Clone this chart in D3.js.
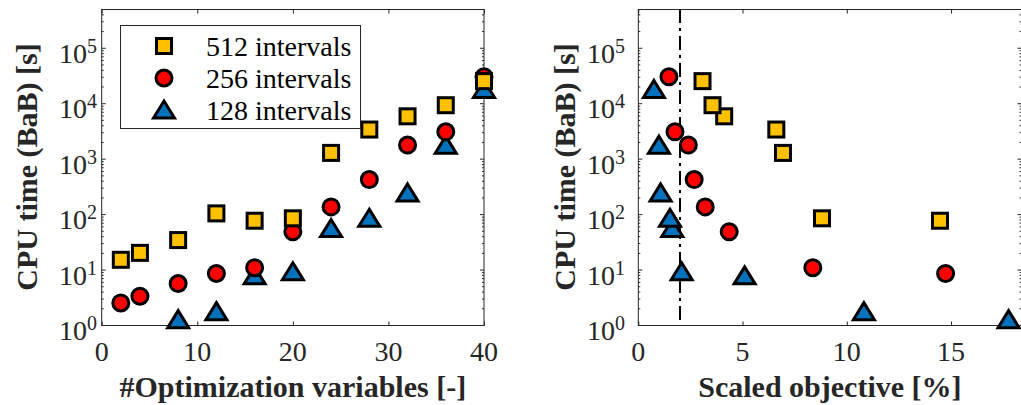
<!DOCTYPE html>
<html lang="en">
<head>
    <meta charset="UTF-8">
    <title>CPU time vs variables</title>
    <style>
        body { margin: 0; background: #fff; }
        svg { display: block; font-family: "Liberation Serif", "DejaVu Serif", serif; }
    </style>
</head>
<body>
<svg></svg>
<script src="https://d3js.org/d3.v7.min.js"></script>
<script>
    // number of optimization variables (left x axis)
    var nVars = [2, 4, 8, 12, 16, 20, 24, 28, 32, 36, 40];
    // CPU time [s] for each interval count
    var time512 = [15, 20, 34, 103, 76, 84, 1270, 3350, 5800, 9200, 25000];
    var time256 = [2.5, 3.3, 5.6, 8.5, 10.8, 48, 135, 420, 1760, 3050, 30000];
    var time128 = [null, null, 1.25, 1.74, 7.7, 9.1, 55, 84, 241, 1750, 17700];
    // scaled objective [%] (right x axis), null = outside the shown range
    var obj512 = [null, null, null, null, 14.47, 8.81, 6.94, 6.62, 4.12, 3.56, 3.08];
    var obj256 = [null, null, null, 14.74, 8.37, 4.36, 3.21, 2.68, 2.40, 1.76, 1.47];
    var obj128 = [null, null, 17.76, 10.82, 5.10, 2.08, 1.63, 1.52, 1.07, 0.99, 0.75];

    var leftTicks = [0, 10, 20, 30, 40];
    var rightTicks = [0, 5, 10, 15];
    var yTicks = [1, 10, 100, 1000, 10000, 100000];
    var refLine = 2;
    var legendLabels = ["512 intervals", "256 intervals", "128 intervals"];

    var width = 1021, height = 405;
    var yTop = 9, yBottom = 325;
    var axisColor = "#262626";

    var svg = d3.select("svg").attr("width", width).attr("height", height);

    var yScale = d3.scaleLog().domain([1, 5e5]).range([yBottom, yTop]);

    var series = [
        {name: "128", shape: "tri", fill: "#0072BD", y: time128, x2: obj128},
        {name: "256", shape: "circ", fill: "#FF0000", y: time256, x2: obj256},
        {name: "512", shape: "sq", fill: "#FFC000", y: time512, x2: obj512}
    ];

    function drawMarker(g, shape, fill, cx, cy) {
        if (shape == "sq") {
            g.append("rect").attr("x", cx - 7.5).attr("y", cy - 7.5)
                .attr("width", 15).attr("height", 15)
                .attr("fill", fill).attr("stroke", "#000").attr("stroke-width", 3);
        } else if (shape == "circ") {
            g.append("circle").attr("cx", cx).attr("cy", cy).attr("r", 8)
                .attr("fill", fill).attr("stroke", "#000").attr("stroke-width", 3);
        } else {
            var p = d3.path();
            p.moveTo(cx, cy - 9);
            p.lineTo(cx + 10.5, cy + 8);
            p.lineTo(cx - 10.5, cy + 8);
            p.closePath();
            g.append("path").attr("d", p.toString())
                .attr("fill", fill).attr("stroke", "#000").attr("stroke-width", 3)
                .attr("stroke-linejoin", "miter").attr("stroke-miterlimit", 3);
        }
    }

    function panel(x0, x1, xDomain, xTicks, xLabel, yLabelX, tickEnd) {
        var xScale = d3.scaleLinear().domain(xDomain).range([x0, x1]);
        var g = svg.append("g");

        // box
        g.append("rect").attr("x", x0).attr("y", yTop + 0.5)
            .attr("width", x1 - x0).attr("height", yBottom - yTop)
            .attr("fill", "none").attr("stroke", axisColor).attr("stroke-width", 1);

        // x axis ticks (bottom + top, inward)
        var xAxisB = d3.axisBottom(xScale).tickValues(xTicks).tickSizeInner(-4).tickSizeOuter(0).tickFormat("");
        var xAxisT = d3.axisTop(xScale).tickValues(xTicks).tickSizeInner(-4).tickSizeOuter(0).tickFormat("");
        g.append("g").attr("transform", "translate(0," + (yBottom + 0.5) + ")").call(xAxisB);
        g.append("g").attr("transform", "translate(0," + (yTop + 0.5) + ")").call(xAxisT);

        // y log ticks, major and minor, both sides
        var minor = [];
        for (var d = 1; d < 5e5; d *= 10) {
            for (var k = 2; k <= 9; k++) if (d * k <= 5e5) minor.push(d * k);
        }
        [[x0, 1], [x1, -1]].forEach(function (s) {
            g.append("g").attr("transform", "translate(" + s[0] + ",0)")
                .call(s[1] > 0 ? d3.axisLeft(yScale).tickValues(yTicks).tickSizeInner(-4).tickSizeOuter(0).tickFormat("")
                               : d3.axisRight(yScale).tickValues(yTicks).tickSizeInner(-4).tickSizeOuter(0).tickFormat(""));
            g.append("g").attr("transform", "translate(" + s[0] + ",0)")
                .call(s[1] > 0 ? d3.axisLeft(yScale).tickValues(minor).tickSizeInner(-2).tickSizeOuter(0).tickFormat("")
                               : d3.axisRight(yScale).tickValues(minor).tickSizeInner(-2).tickSizeOuter(0).tickFormat(""));
        });
        g.selectAll(".domain").remove();
        g.selectAll(".tick line").attr("stroke", axisColor);

        // x tick labels
        g.selectAll(".xlab").data(xTicks).enter().append("text")
            .attr("x", function (d) { return xScale(d); })
            .attr("y", 361)
            .attr("text-anchor", "middle")
            .attr("font-size", 28)
            .attr("fill", axisColor)
            .text(function (d) { return d; });

        // y tick labels 10^n
        var yl = g.selectAll(".ylab").data(yTicks).enter().append("text")
            .attr("x", tickEnd)
            .attr("y", function (d) { return yScale(d) + 15; })
            .attr("text-anchor", "end")
            .attr("font-size", 28)
            .attr("fill", axisColor);
        yl.append("tspan").text("10");
        yl.append("tspan").attr("dy", -10).attr("font-size", 20)
            .text(function (d) { return Math.round(Math.log10(d)); });

        // axis labels
        g.append("text").attr("x", (x0 + Math.min(x1, width + 1)) / 2).attr("y", 397)
            .attr("text-anchor", "middle").attr("font-size", 30).attr("font-weight", "bold")
            .attr("fill", axisColor).text(xLabel);
        g.append("text")
            .attr("transform", "translate(" + yLabelX + "," + ((yTop + yBottom) / 2) + ") rotate(-90)")
            .attr("text-anchor", "middle").attr("font-size", 30).attr("font-weight", "bold")
            .attr("fill", axisColor).text("CPU time (BaB) [s]");

        return {g: g, x: xScale};
    }

    // left panel
    var L = panel(101.7, 484, [0, 40], leftTicks, "#Optimization variables [-]", 37, 97);
    series.forEach(function (s) {
        nVars.forEach(function (n, i) {
            if (s.y[i] == null) return;
            drawMarker(L.g, s.shape, s.fill, L.x(n), yScale(s.y[i]));
        });
    });

    // legend
    var lg = svg.append("g");
    lg.append("rect").attr("x", 120.5).attr("y", 25.5).attr("width", 240).attr("height", 103)
        .attr("fill", "#fff").attr("stroke", axisColor).attr("stroke-width", 1);
    var legendRows = [46, 78, 110];
    [series[2], series[1], series[0]].forEach(function (s, i) {
        drawMarker(lg, s.shape, s.fill, 164, legendRows[i]);
        lg.append("text").attr("x", 206).attr("y", legendRows[i] + 10)
            .attr("font-size", 28).attr("fill", "#000").text(legendLabels[i]);
    });

    // right panel
    var R = panel(638.3, 1021.5, [0, 18.38], rightTicks, "Scaled objective [%]", 575, 625);
    R.g.append("line")
        .attr("x1", R.x(refLine)).attr("x2", R.x(refLine))
        .attr("y1", yTop).attr("y2", yBottom)
        .attr("stroke", "#000").attr("stroke-width", 2)
        .attr("stroke-dasharray", "14,5,3,5");
    series.forEach(function (s) {
        nVars.forEach(function (n, i) {
            if (s.x2[i] == null) return;
            drawMarker(R.g, s.shape, s.fill, R.x(s.x2[i]), yScale(s.y[i]));
        });
    });
</script>
</body>
</html>
